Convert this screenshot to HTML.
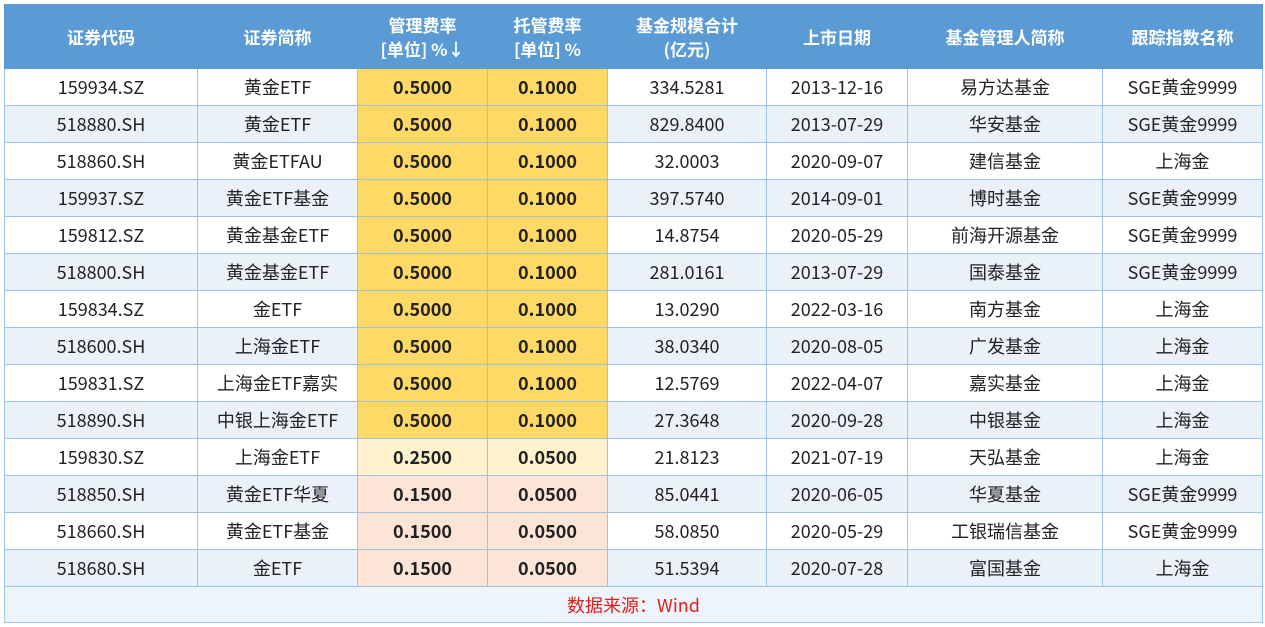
<!DOCTYPE html>
<html><head><meta charset="utf-8"><style>
body{margin:0;background:#fff;width:1265px;height:627px;overflow:hidden}
table{position:absolute;left:4px;top:4px;border-collapse:collapse;table-layout:fixed;width:1258px;font-family:"Noto Sans CJK SC","Liberation Sans",sans-serif;font-size:18px;color:#222}
td,th{border:1px solid #9dc3e6;text-align:center;padding:0;height:36px;line-height:20px}
th{background:#5b9bd5;color:#fff;font-weight:bold;height:63px;line-height:24px;border-color:#5b9bd5;font-size:17px}
tr:nth-child(odd) td{background:#eaf1fa}
td.y{background:#ffd966!important;font-weight:bold}
td.l{background:#fff2cc!important;font-weight:bold}
td.p{background:#fce4d6!important;font-weight:bold}
td.f{background:#eef4fb!important;color:#e0201a;height:35px}
</style></head><body>
<table>
<colgroup><col style="width:193px"><col style="width:160px"><col style="width:130px"><col style="width:120px"><col style="width:159px"><col style="width:141px"><col style="width:195px"><col style="width:160px"></colgroup>
<tr><th>证券代码</th><th>证券简称</th><th>管理费率<br>[单位] %↓</th><th>托管费率<br>[单位] %</th><th>基金规模合计<br>(亿元)</th><th>上市日期</th><th>基金管理人简称</th><th>跟踪指数名称</th></tr>
<tr><td>159934.SZ</td><td>黄金ETF</td><td class="y">0.5000</td><td class="y">0.1000</td><td>334.5281</td><td>2013-12-16</td><td>易方达基金</td><td>SGE黄金9999</td></tr>
<tr><td>518880.SH</td><td>黄金ETF</td><td class="y">0.5000</td><td class="y">0.1000</td><td>829.8400</td><td>2013-07-29</td><td>华安基金</td><td>SGE黄金9999</td></tr>
<tr><td>518860.SH</td><td>黄金ETFAU</td><td class="y">0.5000</td><td class="y">0.1000</td><td>32.0003</td><td>2020-09-07</td><td>建信基金</td><td>上海金</td></tr>
<tr><td>159937.SZ</td><td>黄金ETF基金</td><td class="y">0.5000</td><td class="y">0.1000</td><td>397.5740</td><td>2014-09-01</td><td>博时基金</td><td>SGE黄金9999</td></tr>
<tr><td>159812.SZ</td><td>黄金基金ETF</td><td class="y">0.5000</td><td class="y">0.1000</td><td>14.8754</td><td>2020-05-29</td><td>前海开源基金</td><td>SGE黄金9999</td></tr>
<tr><td>518800.SH</td><td>黄金基金ETF</td><td class="y">0.5000</td><td class="y">0.1000</td><td>281.0161</td><td>2013-07-29</td><td>国泰基金</td><td>SGE黄金9999</td></tr>
<tr><td>159834.SZ</td><td>金ETF</td><td class="y">0.5000</td><td class="y">0.1000</td><td>13.0290</td><td>2022-03-16</td><td>南方基金</td><td>上海金</td></tr>
<tr><td>518600.SH</td><td>上海金ETF</td><td class="y">0.5000</td><td class="y">0.1000</td><td>38.0340</td><td>2020-08-05</td><td>广发基金</td><td>上海金</td></tr>
<tr><td>159831.SZ</td><td>上海金ETF嘉实</td><td class="y">0.5000</td><td class="y">0.1000</td><td>12.5769</td><td>2022-04-07</td><td>嘉实基金</td><td>上海金</td></tr>
<tr><td>518890.SH</td><td>中银上海金ETF</td><td class="y">0.5000</td><td class="y">0.1000</td><td>27.3648</td><td>2020-09-28</td><td>中银基金</td><td>上海金</td></tr>
<tr><td>159830.SZ</td><td>上海金ETF</td><td class="l">0.2500</td><td class="l">0.0500</td><td>21.8123</td><td>2021-07-19</td><td>天弘基金</td><td>上海金</td></tr>
<tr><td>518850.SH</td><td>黄金ETF华夏</td><td class="p">0.1500</td><td class="p">0.0500</td><td>85.0441</td><td>2020-06-05</td><td>华夏基金</td><td>SGE黄金9999</td></tr>
<tr><td>518660.SH</td><td>黄金ETF基金</td><td class="p">0.1500</td><td class="p">0.0500</td><td>58.0850</td><td>2020-05-29</td><td>工银瑞信基金</td><td>SGE黄金9999</td></tr>
<tr><td>518680.SH</td><td>金ETF</td><td class="p">0.1500</td><td class="p">0.0500</td><td>51.5394</td><td>2020-07-28</td><td>富国基金</td><td>上海金</td></tr>
<tr><td class="f" colspan="8">数据来源：Wind</td></tr>
</table>
</body></html>
